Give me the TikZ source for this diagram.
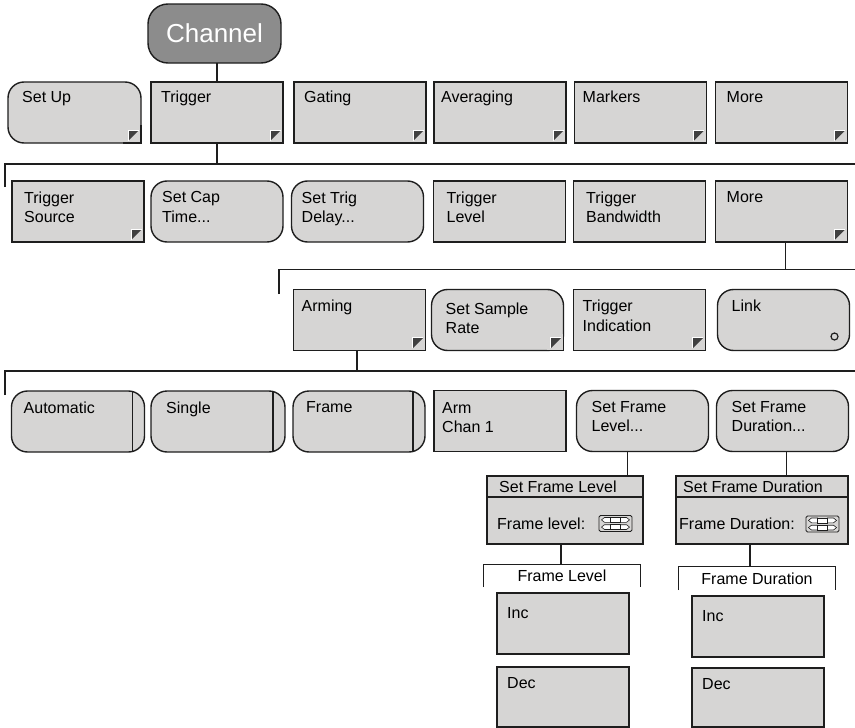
\documentclass[tikz,border=0pt]{standalone}
\usepackage{fontspec}
\setmainfont{Liberation Sans}
\usetikzlibrary{positioning}

\definecolor{btnfill}{RGB}{214,213,212}
\definecolor{chanfill}{RGB}{140,140,140}
\definecolor{edgecol}{RGB}{30,30,30}
\definecolor{markcol}{RGB}{64,64,64}
\newcommand\menufont{\fontsize{16}{19.5}\selectfont}

\tikzset{
    btnline/.style={draw=edgecol, line width=1.4pt},
    menubtn/.style={rectangle, btnline, fill=btnfill, minimum width=132pt,
                    minimum height=61pt, inner sep=0pt, outer sep=0pt},
    roundbtn/.style={menubtn, rounded corners=16pt},
    togglebtn/.style={roundbtn, path picture={
        \draw[btnline] ([xshift=-12pt]path picture bounding box.north east)
            -- ([xshift=-12pt]path picture bounding box.south east);}},
    linkbtn/.style={roundbtn, path picture={
        \draw[edgecol, line width=1.2pt]
            ([shift={(-15pt,14pt)}]path picture bounding box.south east) circle[radius=3.5pt];}},
    dlgbar/.style={rectangle, btnline, fill=btnfill, minimum height=21pt,
                   inner sep=0pt, outer sep=0pt},
    caption/.style={anchor=north west, align=left, font=\menufont,
                    inner xsep=10pt, inner ysep=10.5pt},
    rcaption/.style={caption, inner xsep=14pt},
    bracket/.style={font=\menufont, inner sep=0pt},
    wire/.style={draw=edgecol, line width=1.2pt}
}

% dark flag in the lower right corner of a button
\newcommand\submark[1]{%
    \fill[markcol] ([shift={(-12.5pt,12.5pt)}]#1.south east)
        -- ([shift={(-2.5pt,12.5pt)}]#1.south east)
        -- ([shift={(-12.5pt,2.5pt)}]#1.south east) -- cycle;
    \draw[white, line width=1pt] ([shift={(-13pt,2.5pt)}]#1.south east)
        -- ([shift={(-13pt,13pt)}]#1.south east)
        -- ([shift={(-2.5pt,13pt)}]#1.south east);}

% square lower right corner on a rounded button
\newcommand\squarecorner[1]{%
    \fill[btnfill] ([shift={(-17pt,17pt)}]#1.south east) rectangle (#1.south east);
    \draw[btnline] ([xshift=-18pt]#1.south east) -- (#1.south east)
        -- ([yshift=18pt]#1.south east);}

% up/down spinner icon
\newcommand\spinner[1]{%
    \begin{scope}[shift={(#1)}]
        \draw[edgecol, line width=0.8pt, rounded corners=1.5pt, fill=btnfill]
            (-16.5,-8) rectangle (16.5,8);
        \foreach \row in {-3.6,3.6} {
            \draw[edgecol, line width=0.6pt, fill=white]
                (-14,\row) -- (-11,\row-2.4) -- (-5,\row-2.4) -- (-5,\row+2.4) -- (-11,\row+2.4) -- cycle;
            \draw[edgecol, line width=0.6pt, fill=white]
                (-5,\row-2.4) rectangle (5,\row+2.4);
            \draw[edgecol, line width=0.6pt, fill=white]
                (14,\row) -- (11,\row-2.4) -- (5,\row-2.4) -- (5,\row+2.4) -- (11,\row+2.4) -- cycle;
        }
    \end{scope}}

\begin{document}
\begin{tikzpicture}[x=1pt, y=-1pt]
    \useasboundingbox (0,0) rectangle (855,728);
    \fill[white] (0,0) rectangle (855,728);

    \node[roundbtn, fill=chanfill, minimum width=133pt, minimum height=59pt,
          rounded corners=20pt, font=\fontsize{26}{30}\selectfont, text=white]
          (chan) at (214.5,33.5) {Channel};

    % top menu
    \node[roundbtn, minimum width=133pt, label={[rcaption, inner ysep=9pt]north west:Set Up}] (setup) at (74.5,112.5) {};
    \node[menubtn, label={[caption, inner ysep=9pt]north west:Trigger}] (trig) at (217,112.5) {};
    \node[menubtn, label={[caption, inner ysep=9pt]north west:Gating}] (gate) at (360,112.5) {};
    \node[menubtn, label={[caption, inner ysep=9pt, inner xsep=7pt]north west:Averaging}] (avg) at (500,112.5) {};
    \node[menubtn, label={[caption, inner ysep=9pt, inner xsep=8pt]north west:Markers}] (mark) at (640.5,112.5) {};
    \node[menubtn, label={[caption, inner ysep=9pt, inner xsep=11pt]north west:More}] (more) at (781.5,112.5) {};
    \squarecorner{setup}
    \foreach \n in {setup,trig,gate,avg,mark,more} {\submark{\n}}

    % trigger menu
    \node[menubtn, label={[caption, inner xsep=12pt]north west:Trigger\\Source}] (tsrc) at (78,211.5) {};
    \node[roundbtn, label={[caption, inner xsep=11pt]north west:Set Cap\\Time...}] (capt) at (217,211.5) {};
    \node[roundbtn, label={[caption]north west:Set Trig\\Delay...}] (tdel) at (357.5,211.5) {};
    \node[menubtn, label={[caption, inner xsep=13pt]north west:Trigger\\Level}] (tlvl) at (499.5,211.5) {};
    \node[menubtn, label={[caption, inner xsep=12.5pt]north west:Trigger\\Bandwidth}] (tbw) at (639.5,211.5) {};
    \node[menubtn, label={[caption, inner xsep=11pt]north west:More}] (more2) at (781.5,211.5) {};
    \submark{tsrc}
    \submark{more2}

    % more trigger menu
    \node[menubtn, label={[caption, inner xsep=8pt]north west:Arming}] (arm) at (359.5,320) {};
    \node[roundbtn, label={[rcaption, inner ysep=13pt]north west:Set Sample\\Rate}] (ssr) at (497.5,320) {};
    \node[menubtn, label={[caption, inner xsep=9pt]north west:Trigger\\Indication}] (tind) at (639.5,320) {};
    \node[linkbtn, label={[rcaption, inner ysep=10pt]north west:Link}] (link) at (783.5,320) {};
    \squarecorner{ssr}
    \foreach \n in {arm,ssr,tind} {\submark{\n}}

    % arming menu
    \node[togglebtn, minimum width=133pt, label={[caption, inner xsep=12pt]north west:Automatic}] (auto) at (78,421.5) {};
    \node[togglebtn, minimum width=134pt, label={[rcaption, inner xsep=15pt]north west:Single}] (single) at (218,421.5) {};
    \node[togglebtn, label={[rcaption, inner xsep=13pt]north west:Frame}] (frame) at (359,421.5) {};
    \node[menubtn, label={[caption, inner xsep=8pt, inner ysep=11.5pt]north west:Arm\\Chan 1}] (armch) at (500,421) {};
    \node[roundbtn, label={[rcaption, inner xsep=15pt]north west:Set Frame\\Level...}] (sfl) at (642.5,421) {};
    \node[roundbtn, label={[rcaption, inner xsep=15pt]north west:Set Frame\\Duration...}] (sfd) at (782.5,421) {};

    % dialogs
    \node[dlgbar, minimum width=156pt, label={[anchor=west, font=\menufont, inner xsep=12pt]west:Set Frame Level}] (dlgA) at (565,486.5) {};
    \node[dlgbar, minimum width=156pt, minimum height=47pt] (dlgAbody) at (565,520.5) {};
    \node[anchor=west, font=\menufont, inner sep=0pt] (flvl) at ([shift={(10pt,-3pt)}]dlgAbody.west) {Frame level:};
    \spinner{615.5,523.5}

    \node[dlgbar, minimum width=172pt, label={[anchor=west, font=\menufont, inner xsep=7pt]west:Set Frame Duration}] (dlgB) at (762,486.5) {};
    \node[dlgbar, minimum width=172pt, minimum height=47pt] (dlgBbody) at (762,520.5) {};
    \node[anchor=west, font=\menufont, inner sep=0pt] (fdur) at ([shift={(3pt,-3pt)}]dlgBbody.west) {Frame Duration:};
    \spinner{822.5,524}

    % inc / dec keys
    \node[bracket, minimum width=156pt, minimum height=22pt] (brA) at (562,576) {Frame Level};
    \node[bracket, minimum width=156pt, minimum height=23pt] (brB) at (757,578.5) {Frame Duration};
    \node[menubtn, label={[caption, inner ysep=14pt]north west:Inc}] (incA) at (563,623.5) {};
    \node[menubtn, minimum height=60pt, label={[caption]north west:Dec}] (decA) at (563,697) {};
    \node[menubtn, label={[caption, inner ysep=14pt]north west:Inc}] (incB) at (758,626.5) {};
    \node[menubtn, minimum height=59pt, label={[caption]north west:Dec}] (decB) at (758,697.5) {};

    % buses
    \coordinate (busAtick) at (5,187);
    \coordinate (busAend) at (855,164);
    \coordinate (busBtick) at (279,294);
    \coordinate (busBend) at (855,269.5);
    \coordinate (busCtick) at (5,395);
    \coordinate (busCend) at (855,371);

    \draw[wire] (trig.north) -- (trig.north |- chan.south);
    \draw[wire] (trig.south) -- (trig.south |- busAend);
    \draw[wire] (busAtick) |- (busAend);
    \draw[wire] ([xshift=4pt]more2.south) -- ([xshift=4pt]more2.south |- busBend);
    \draw[wire] (busBtick) |- (busBend);
    \draw[wire] ([xshift=-2.5pt]arm.south) -- ([xshift=-2.5pt]arm.south |- busCend);
    \draw[wire] (busCtick) |- (busCend);
    \draw[wire] ([xshift=-15pt]sfl.south) -- ([xshift=-15pt]sfl.south |- dlgA.north);
    \draw[wire] ([xshift=4pt]sfd.south) -- ([xshift=4pt]sfd.south |- dlgB.north);
    \draw[wire] ([xshift=-4pt]dlgAbody.south) -- ([xshift=-4pt]dlgAbody.south |- brA.north);
    \draw[wire] ([xshift=-12pt]dlgBbody.south) -- ([xshift=-12pt]dlgBbody.south |- brB.north);
    \draw[wire] (brA.south west) |- (brA.north) -| (brA.south east);
    \draw[wire] (brB.south west) |- (brB.north) -| (brB.south east);
\end{tikzpicture}
\end{document}
